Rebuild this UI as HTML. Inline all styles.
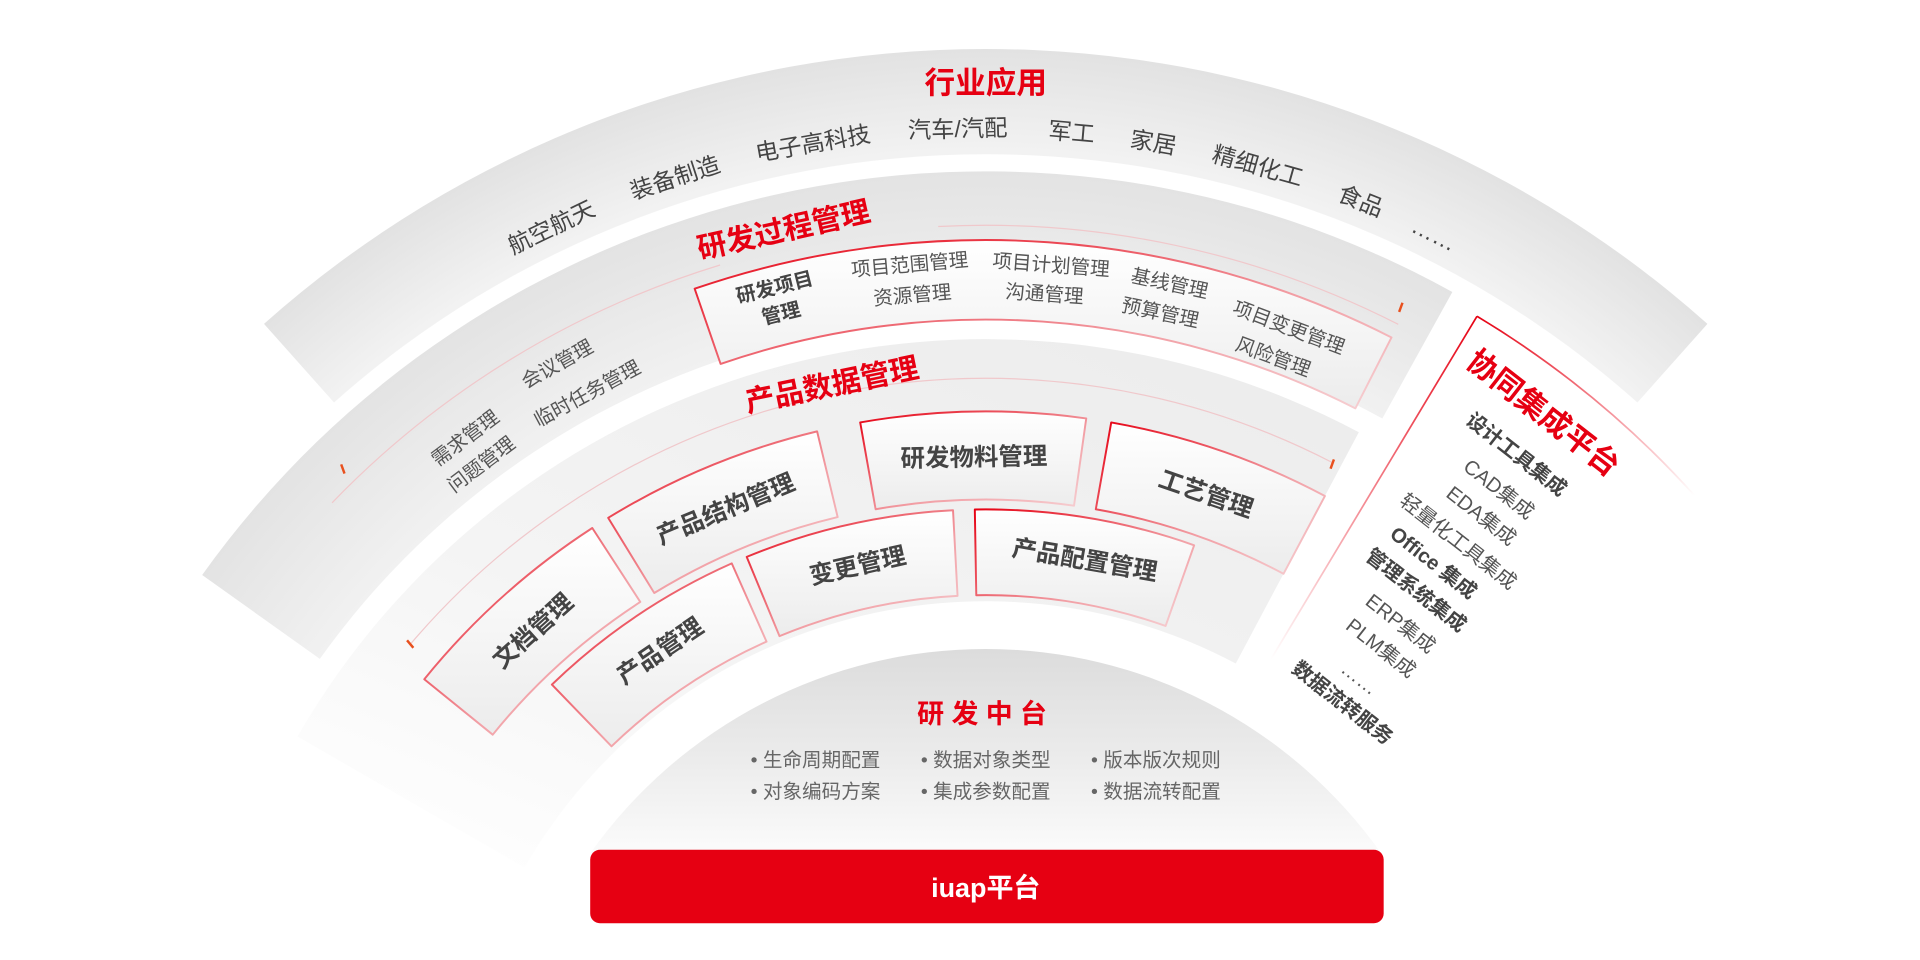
<!DOCTYPE html>
<html><head><meta charset="utf-8"><style>
html,body{margin:0;padding:0;background:#fff;width:1920px;height:960px;overflow:hidden}
svg{display:block}
text{font-family:"Liberation Sans","Noto Sans CJK SC",sans-serif}
</style></head><body>
<svg width="1920" height="960" viewBox="0 0 1568 784" xmlns="http://www.w3.org/2000/svg">
<defs>
<radialGradient id="g1" cx="805" cy="926" r="886" gradientUnits="userSpaceOnUse">
<stop offset="0.90" stop-color="#f3f3f3"/><stop offset="1" stop-color="#e2e2e2"/></radialGradient>
<radialGradient id="g2" cx="805" cy="926" r="786" gradientUnits="userSpaceOnUse">
<stop offset="0.85" stop-color="#f1f1f1"/><stop offset="1" stop-color="#e3e3e3"/></radialGradient>
<linearGradient id="g3" x1="0.9" y1="0" x2="0.1" y2="1">
<stop offset="0" stop-color="#ececec"/><stop offset="0.6" stop-color="#f4f4f4"/><stop offset="1" stop-color="#fff"/></linearGradient>
<linearGradient id="gd" x1="0" y1="0" x2="0" y2="1">
<stop offset="0" stop-color="#dcdcdc"/><stop offset="0.55" stop-color="#ececec"/><stop offset="1" stop-color="#fbfbfb"/></linearGradient>
<linearGradient id="gc" x1="0" y1="0" x2="0" y2="1">
<stop offset="0" stop-color="#ffffff"/><stop offset="1" stop-color="#ececec"/></linearGradient>
<linearGradient id="gs" x1="0" y1="0" x2="1" y2="1">
<stop offset="0" stop-color="#e60012"/><stop offset="0.6" stop-color="#f2a0a6"/><stop offset="1" stop-color="#f6d0d3"/></linearGradient>
<linearGradient id="gp" x1="0" y1="0" x2="1" y2="1">
<stop offset="0" stop-color="#e60012"/><stop offset="1" stop-color="#ffffff"/></linearGradient>
<linearGradient id="gp2" x1="0" y1="0" x2="0" y2="1">
<stop offset="0" stop-color="#e60012"/><stop offset="1" stop-color="#ffffff"/></linearGradient>
</defs>

<path id="b1" fill="url(#g1)"/>
<path id="b2" fill="url(#g2)"/>
<path id="b3" fill="url(#g3)"/>
<path id="l2a" fill="none" stroke="#f0c8cb" stroke-width="1"/>
<path id="l2b" fill="none" stroke="#f0c8cb" stroke-width="1"/>
<path id="l3" fill="none" stroke="#f0c8cb" stroke-width="1"/>
<path id="cp" fill="url(#gc)" stroke="url(#gs)" stroke-width="1.6" stroke-linejoin="round"/>
<path id="c1" fill="url(#gc)" stroke="url(#gs)" stroke-width="1.6" stroke-linejoin="round"/>
<path id="c2" fill="url(#gc)" stroke="url(#gs)" stroke-width="1.6" stroke-linejoin="round"/>
<path id="c3" fill="url(#gc)" stroke="url(#gs)" stroke-width="1.6" stroke-linejoin="round"/>
<path id="c4" fill="url(#gc)" stroke="url(#gs)" stroke-width="1.6" stroke-linejoin="round"/>
<path id="c5" fill="url(#gc)" stroke="url(#gs)" stroke-width="1.6" stroke-linejoin="round"/>
<path id="c6" fill="url(#gc)" stroke="url(#gs)" stroke-width="1.6" stroke-linejoin="round"/>
<path id="c7" fill="url(#gc)" stroke="url(#gs)" stroke-width="1.6" stroke-linejoin="round"/>
<path id="pn" fill="#fff"/>
<path id="pl" fill="none" stroke="url(#gp2)" stroke-width="1.4"/>
<path id="pa" fill="none" stroke="url(#gp)" stroke-width="1.4"/>
<path id="dome" fill="url(#gd)"/>

<rect x="279" y="379" width="2" height="8" fill="#e8501e" transform="rotate(-20 280 383)"/>
<rect x="1143" y="247" width="2" height="8" fill="#e8501e" transform="rotate(20 1144 251)"/>
<rect x="334" y="522" width="2" height="8" fill="#e8501e" transform="rotate(-40 335 526)"/>
<rect x="1087" y="375" width="2" height="8" fill="#e8501e" transform="rotate(20 1088 379)"/>

<g text-anchor="middle" dominant-baseline="central">
<text x="805" y="68" font-size="25" font-weight="bold" fill="#e60012">行业应用</text>
<g font-size="19" fill="#444">
<text x="805" y="105" transform="rotate(-25.6 805 926)">航空航天</text>
<text x="805" y="105" transform="rotate(-18 805 926)">装备制造</text>
<text x="805" y="105" transform="rotate(-9.9 805 926)">电子高科技</text>
<text x="805" y="105" transform="rotate(-1.6 805 926)">汽车/汽配</text>
<text x="805" y="105" transform="rotate(4.9 805 926)">军工</text>
<text x="805" y="105" transform="rotate(9.6 805 926)">家居</text>
<text x="805" y="105" transform="rotate(15.7 805 926)">精细化工</text>
<text x="805" y="105" transform="rotate(21.9 805 926)">食品</text>
<text x="805" y="105" transform="rotate(26.5 805 926)">……</text>
</g>
<text x="805" y="170" font-size="24" font-weight="bold" fill="#e60012" transform="rotate(-12.6 805 926)">研发过程管理</text>
<g font-size="16" font-weight="bold" fill="#444" transform="rotate(-14 805 926)">
<text x="805" y="214">研发项目</text><text x="805" y="236">管理</text></g>
<g font-size="16" fill="#555">
<text x="805" y="214" transform="rotate(-5 805 926)">项目范围管理</text>
<text x="805" y="239" transform="rotate(-5 805 926)">资源管理</text>
<text x="805" y="215" transform="rotate(4.3 805 926)">项目计划管理</text>
<text x="805" y="239" transform="rotate(4 805 926)">沟通管理</text>
<text x="805" y="216" transform="rotate(12.2 805 926)">基线管理</text>
<text x="805" y="241" transform="rotate(12 805 926)">预算管理</text>
<text x="805" y="223" transform="rotate(20.6 805 926)">项目变更管理</text>
<text x="805" y="250" transform="rotate(20.3 805 926)">风险管理</text>
<text x="805" y="207" transform="rotate(-29.1 805 926)">会议管理</text>
<text x="805" y="240" transform="rotate(-28.3 805 926)">临时任务管理</text>
<text x="805" y="217" transform="rotate(-36.8 805 926)">需求管理</text>
<text x="805" y="242" transform="rotate(-37 805 926)">问题管理</text>
</g>
<text x="805" y="302" font-size="24" font-weight="bold" fill="#e60012" transform="rotate(-11.6 805 926)">产品数据管理</text>
<g font-size="20" font-weight="bold" fill="#444">
<text x="805" y="374" transform="rotate(-42 805 926)">文档管理</text>
<text x="805" y="374" transform="rotate(-22.6 805 926)">产品结构管理</text>
<text x="805" y="374" transform="rotate(-1 805 926)">研发物料管理</text>
<text x="805" y="374" transform="rotate(19 805 926)">工艺管理</text>
<text x="805" y="451" transform="rotate(-34 805 926)">产品管理</text>
<text x="805" y="451" transform="rotate(-12.7 805 926)">变更管理</text>
<text x="805" y="451" transform="rotate(9.8 805 926)">产品配置管理</text>
</g>
<text x="805" y="583" font-size="22" font-weight="bold" fill="#e60012" letter-spacing="6">研发中台</text>
</g>
<g font-size="16" fill="#666" dominant-baseline="central">
<text x="613" y="621">• 生命周期配置</text><text x="752" y="621">• 数据对象类型</text><text x="891" y="621">• 版本版次规则</text>
<text x="613" y="647">• 对象编码方案</text><text x="752" y="647">• 集成参数配置</text><text x="891" y="647">• 数据流转配置</text>
</g>
<rect x="482" y="694" width="648" height="60" rx="8" fill="#e60012"/>
<text x="805" y="725" text-anchor="middle" dominant-baseline="central" font-size="22" font-weight="bold" fill="#fff">iuap平台</text>

<text transform="translate(1196 298) rotate(38)" font-size="25" font-weight="bold" fill="#e60012">协同集成平台</text>
<g font-size="16.5" fill="#555">
<text transform="translate(1196 345) rotate(38)" font-weight="bold" fill="#444">设计工具集成</text>
<text transform="translate(1194 383) rotate(38)">CAD集成</text>
<text transform="translate(1180 405) rotate(38)">EDA集成</text>
<text transform="translate(1142 411) rotate(38)">轻量化工具集成</text>
<text transform="translate(1134 438) rotate(38)" font-weight="bold" fill="#444">Office 集成</text>
<text transform="translate(1114 456) rotate(38)" font-weight="bold" fill="#444">管理系统集成</text>
<text transform="translate(1114 493) rotate(38)">ERP集成</text>
<text transform="translate(1098 513) rotate(38)">PLM集成</text>
<text transform="translate(1094 548) rotate(38)">……</text>
<text transform="translate(1054 548) rotate(38)" font-weight="bold" fill="#444">数据流转服务</text>
</g>

<script>
var CX=805,CY=926;
function P(a,r){a=a*Math.PI/180;return (CX+r*Math.sin(a)).toFixed(1)+' '+(CY-r*Math.cos(a)).toFixed(1);}
function sec(a1,a2,r1,r2){var l=(a2-a1)>180?1:0;
return 'M'+P(a1,r2)+' A'+r2+' '+r2+' 0 '+l+' 1 '+P(a2,r2)+' L'+P(a2,r1)+' A'+r1+' '+r1+' 0 '+l+' 0 '+P(a1,r1)+' Z';}
function arc(a1,a2,r){return 'M'+P(a1,r)+' A'+r+' '+r+' 0 0 1 '+P(a2,r);}
function s(id,d){document.getElementById(id).setAttribute('d',d);}
s('b1',sec(-41.7,41.7,800,886));
s('b2',sec(-54.5,29,668,786));
s('b3',sec(-60,28,435,649));
s('l2a',arc(-46,-17,742));
s('l2b',arc(-3,27,742));
s('l3',arc(-49.5,27.3,617));
s('cp',sec(-19,27,665,730));
s('c1',sec(-51,-33,518,590));
s('c2',sec(-31.5,-13.5,518,590));
s('c3',sec(-10,8,518,590));
s('c4',sec(10,28,518,590));
s('c5',sec(-44,-24,440,510));
s('c6',sec(-22.5,-3,440,510));
s('c7',sec(-1,19.5,440,510));
s('pn',sec(31,48,452,779));
s('pl','M'+P(31,779)+' L'+P(31,452));
s('pa',arc(31,48,779));
s('dome','M'+P(-54.6,396)+' A396 396 0 0 1 '+P(54.6,396)+' Z');
</script>
</svg>
</body></html>
